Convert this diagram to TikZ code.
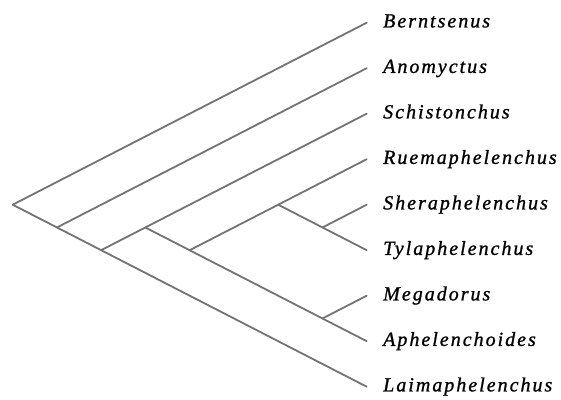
\documentclass[tikz,border=0pt]{standalone}
\usepackage{fontspec}
\setmainfont{Liberation Serif}
\newfontfamily\taxonfont[LetterSpace=10, FakeBold=1]{Liberation Serif}
\begin{document}
\begin{tikzpicture}[x=1pt,y=-1pt,
        branch/.style={draw=black!55, line width=1.8pt, line cap=round},
        taxon/.style={anchor=base west, inner sep=0pt,
                      font=\taxonfont\itshape\fontsize{20}{20}\selectfont}]
        \useasboundingbox (0,0) rectangle (561,399);

        % Leaf tips and names
        \foreach \tip/\row/\txt in {bern/0/Berntsenus, anom/1/Anomyctus,
                schi/2/Schistonchus, ruem/3/Ruemaphelenchus,
                sher/4/Sheraphelenchus, tyla/5/Tylaphelenchus,
                mega/6/Megadorus, aphe/7/Aphelenchoides,
                laim/8/Laimaphelenchus} {
            \coordinate (\tip) at (366.7, 22.7+45.5*\row);
            \node[taxon] (\tip-name) at (383, 27.4+45.5*\row) {\txt};
        }

        % Inner nodes
        \coordinate (root) at ( 12.7, 204.7);
        \coordinate (nA)   at ( 56.9, 227.5);
        \coordinate (nB)   at (101.1, 250.2);
        \coordinate (nC)   at (145.4, 227.5);
        \coordinate (nD)   at (189.7, 250.2);
        \coordinate (nE)   at (278.2, 204.7);
        \coordinate (nF)   at (322.4, 227.5);
        \coordinate (nG)   at (322.4, 318.5);

        % Branches
        \draw[branch]   (root) -- (bern);
        \draw[branch]   (root) -- (laim); % through nA, nB
        \draw[branch]   (nA)   -- (anom);
        \draw[branch]   (nB)   -- (schi); % through nC
        \draw[branch]   (nC)   -- (aphe); % through nD, nG
        \draw[branch]   (nD)   -- (ruem); % through nE
        \draw[branch]   (nE)   -- (tyla); % through nF
        \draw[branch]   (nF)   -- (sher);
        \draw[branch]   (nG)   -- (mega);
\end{tikzpicture}
\end{document}
